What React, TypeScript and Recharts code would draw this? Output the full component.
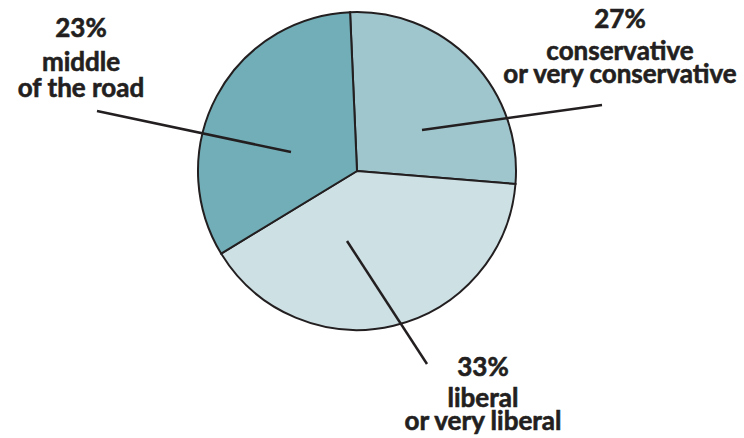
import { Pie, PieChart, Cell } from "recharts";

// slice order follows the drawing clockwise from the top
const categories = ["conservative", "liberal", "middle"];
// share of the circle each wedge takes in the picture
const wedgeShares = [27, 40, 33];
// percentages printed next to the wedges
const printedPercents = ["27%", "33%", "23%"];
const labelLines = [
  ["conservative", "or very conservative"],
  ["liberal", "or very liberal"],
  ["middle", "of the road"],
];

const fills = ["#a0c6cd", "#cde0e4", "#72aeb7"];
const ink = "#231f20";

const data = categories.map((name, i) => ({ name, value: wedgeShares[i] }));

// callout placement relative to the pie centre
const callouts = [
  { from: [65, -41], to: [245, -66], tx: 263, ys: [-143, -111, -88] },
  { from: [-10, 70], to: [70, 193], tx: 126, ys: [205, 236, 259] },
  { from: [-66, -19], to: [-260, -60], tx: -276, ys: [-134, -100, -74] },
];

function Callout(props: any) {
  const { cx, cy, index } = props;
  const c = callouts[index];
  const lines = [printedPercents[index], ...labelLines[index]];
  return (
    <g>
      <line
        x1={cx + c.from[0]}
        y1={cy + c.from[1]}
        x2={cx + c.to[0]}
        y2={cy + c.to[1]}
        stroke={ink}
        strokeWidth={2.5}
      />
      <text
        textAnchor="middle"
        fill={ink}
        stroke={ink}
        strokeWidth={0.6}
        fontFamily="Lato, sans-serif"
        fontWeight={700}
        fontSize={26}
      >
        {lines.map((t, i) => (
          <tspan key={i} x={cx + c.tx} y={cy + c.ys[i]}>
            {t}
          </tspan>
        ))}
      </text>
    </g>
  );
}

export default function App() {
  return (
    <div style={{ position: "absolute", left: 0, top: 0, background: "#fff" }}>
      <PieChart width={744} height={438} margin={{ top: 0, right: 0, bottom: 0, left: 0 }}>
        <Pie
          data={data}
          dataKey="value"
          nameKey="name"
          cx={357}
          cy={171}
          outerRadius={159}
          startAngle={92.5}
          endAngle={-267.5}
          stroke={ink}
          strokeWidth={2}
          label={Callout}
          labelLine={false}
          isAnimationActive={false}
        >
          {data.map((d, i) => (
            <Cell key={d.name} fill={fills[i]} />
          ))}
        </Pie>
      </PieChart>
    </div>
  );
}
